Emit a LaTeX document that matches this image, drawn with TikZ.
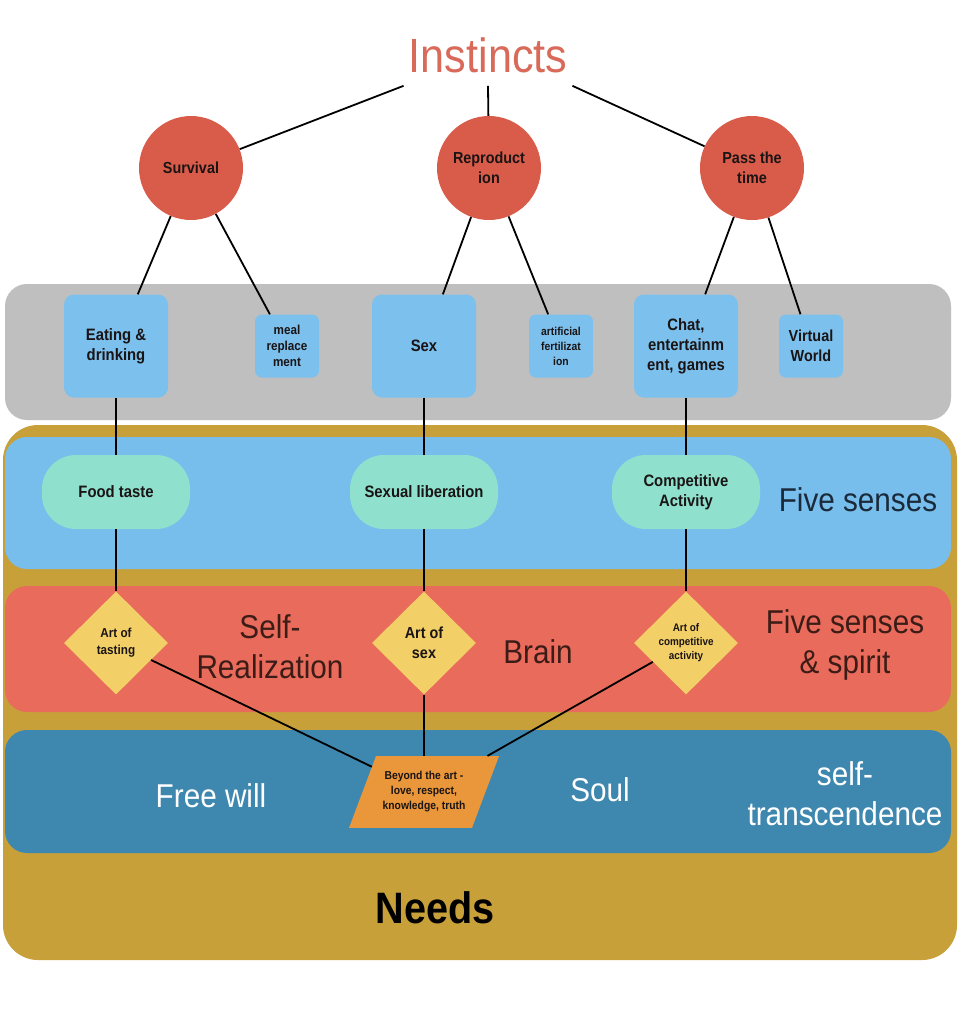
\documentclass[tikz,border=0pt]{standalone}
\usepackage{fontspec}
\setmainfont{Liberation Sans}[FakeStretch=0.9]
\usetikzlibrary{shapes.geometric}
\definecolor{instred}{HTML}{D96A5A}
\definecolor{circred}{HTML}{D95C4A}
\definecolor{grayband}{HTML}{BFBFBF}
\definecolor{boxblue}{HTML}{7CC0EE}
\definecolor{bandblue}{HTML}{78BEEC}
\definecolor{goldc}{HTML}{C8A03A}
\definecolor{bandred}{HTML}{E96B5B}
\definecolor{banddark}{HTML}{3E87AF}
\definecolor{pillgreen}{HTML}{8FE0CD}
\definecolor{diayellow}{HTML}{F3D067}
\definecolor{parorange}{HTML}{EA963A}
\definecolor{navytext}{HTML}{1B2A3A}
\definecolor{browntext}{HTML}{3B1C17}
\definecolor{nodetext}{HTML}{1A1414}
\begin{document}
\begin{tikzpicture}[x=1pt,y=-1pt,
  conn/.style={line width=1.8, black},
  circnode/.style={circle, fill=circred, minimum size=104, inner sep=0, align=center,
    text=nodetext, font=\bfseries\fontsize{16}{20}\selectfont},
  bigbox/.style={rectangle, rounded corners=10, fill=boxblue, minimum width=104, minimum height=103,
    inner sep=0, align=center, text=nodetext, font=\bfseries\fontsize{16.5}{20}\selectfont},
  smallbox/.style={rectangle, rounded corners=7, fill=boxblue, minimum width=64, minimum height=63,
    inner sep=0, align=center, text=nodetext},
  pill/.style={rectangle, rounded corners=34, fill=pillgreen, minimum width=148, minimum height=74,
    inner sep=0, align=center, text=nodetext, font=\bfseries\fontsize{16.5}{20}\selectfont},
  dia/.style={diamond, fill=diayellow, minimum width=104, minimum height=103, inner sep=0,
    align=center, text=nodetext},
  biglabel/.style={align=center, font=\fontsize{33}{40}\selectfont}
]
\useasboundingbox (0,0) rectangle (960,1009);
\fill[white] (0,0) rectangle (960,1009);

% bands
\fill[goldc, rounded corners=35] (3,425) rectangle (957,960);
\fill[grayband, rounded corners=22] (5,284) rectangle (951,420);
\fill[bandblue, rounded corners=22] (5,437) rectangle (951,569);
\fill[bandred, rounded corners=22] (5,586) rectangle (951,712);
\fill[banddark, rounded corners=22] (5,730) rectangle (951,853);

% title
\node[font=\fontsize{48}{56}\selectfont, text=instred, inner xsep=5, inner ysep=13] (inst) at (488,55) {Instincts};

% circles
\node[circnode] (surv) at (191,168) {Survival};
\node[circnode] (repr) at (489,168) {Reproduct\\ion};
\node[circnode] (pass) at (752,168) {Pass the\\time};

% boxes
\node[bigbox] (eat) at (116,346) {Eating \&\\drinking};
\node[smallbox, font=\bfseries\fontsize{13}{16}\selectfont] (meal) at (287,346) {meal\\replace\\ment};
\node[bigbox] (sex) at (424,346) {Sex};
\node[smallbox, font=\bfseries\fontsize{11.5}{15}\selectfont] (fert) at (561,346) {artificial\\fertilizat\\ion};
\node[bigbox] (chat) at (686,346) {Chat,\\entertainm\\ent, games};
\node[smallbox, font=\bfseries\fontsize{16}{20}\selectfont] (virt) at (811,346) {Virtual\\World};

% pills
\node[pill] (food) at (116,492) {Food taste};
\node[pill] (sexlib) at (424,492) {Sexual liberation};
\node[pill] (comp) at (686,492) {Competitive\\Activity};

% diamonds
\node[dia, font=\bfseries\fontsize{13}{17}\selectfont] (arttaste) at (116,643) {Art of\\tasting};
\node[dia, font=\bfseries\fontsize{16}{20}\selectfont] (artsex) at (424,643) {Art of\\sex};
\node[dia, font=\bfseries\fontsize{11}{14}\selectfont] (artcomp) at (686,643) {Art of\\competitive\\activity};

% parallelogram
\node[trapezium, trapezium left angle=69.4, trapezium right angle=110.6, trapezium stretches body,
  fill=parorange, minimum width=150, inner xsep=0, inner ysep=15.5, align=center, text=nodetext,
  font=\bfseries\fontsize{11.5}{15}\selectfont] (beyond) at (424,792) {Beyond the art -\\love, respect,\\knowledge, truth};

% band labels
\node[biglabel, text=navytext] (fivesenses) at (858,500) {Five senses};
\node[biglabel, text=browntext] (selfreal) at (270,647) {Self-\\Realization};
\node[biglabel, text=browntext] (brain) at (538,652) {Brain};
\node[biglabel, text=browntext] (fivespirit) at (845,645) {Five senses\\\& spirit};
\node[biglabel, text=white] (freewill) at (211,796) {Free will};
\node[biglabel, text=white] (soul) at (600,790) {Soul};
\node[biglabel, text=white] (selftrans) at (845,794) {self-\\transcendence};
\node[font=\bfseries\fontsize{44}{50}\selectfont, text=black] (needs) at (435,908) {Needs};

% connectors
\draw[conn] (inst.south west) -- (surv);
\draw[conn] (inst.south) -- (repr);
\draw[conn] (inst.south east) -- (pass);
\draw[conn] (surv) -- (eat);
\draw[conn] (surv) -- (meal);
\draw[conn] (repr) -- (sex);
\draw[conn] (repr) -- (fert);
\draw[conn] (pass) -- (chat);
\draw[conn] (pass) -- (virt);
\draw[conn] (eat) -- (food);
\draw[conn] (sex) -- (sexlib);
\draw[conn] (chat) -- (comp);
\draw[conn] (food) -- (arttaste);
\draw[conn] (sexlib) -- (artsex);
\draw[conn] (comp) -- (artcomp);
\draw[conn] (arttaste) -- (beyond);
\draw[conn] (artsex) -- (beyond);
\draw[conn] (artcomp) -- (beyond);
\end{tikzpicture}
\end{document}
